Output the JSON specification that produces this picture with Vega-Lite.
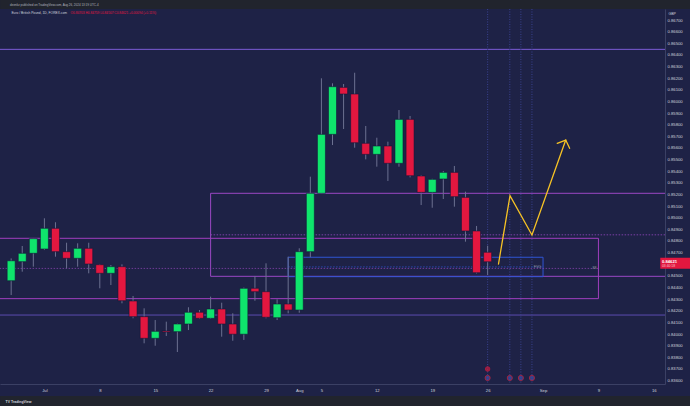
{
  "$schema": "https://vega.github.io/schema/vega-lite/v6.json",
  "width": 665,
  "height": 375,
  "autosize": {"type": "none"},
  "padding": {"top": 9, "left": 0, "right": 25, "bottom": 22},
  "background": "#1e2246",
  "config": {"view": {"stroke": null}, "font": "Liberation Sans", "axis": {"labelOverlap": false, "labelFlush": false}},
  "datasets": {
    "candles": [
      {"date": "2024-06-26", "idx": -3, "open": 0.84458, "high": 0.84650, "low": 0.84335, "close": 0.84630},
      {"date": "2024-06-27", "idx": -2, "open": 0.84622, "high": 0.84757, "low": 0.84536, "close": 0.84694},
      {"date": "2024-06-28", "idx": -1, "open": 0.84694, "high": 0.84826, "low": 0.84579, "close": 0.84820},
      {"date": "2024-07-01", "idx": 0, "open": 0.84731, "high": 0.84995, "low": 0.84722, "close": 0.84909},
      {"date": "2024-07-02", "idx": 1, "open": 0.84909, "high": 0.84961, "low": 0.84665, "close": 0.84708},
      {"date": "2024-07-03", "idx": 2, "open": 0.84708, "high": 0.84785, "low": 0.84565, "close": 0.84651},
      {"date": "2024-07-04", "idx": 3, "open": 0.84651, "high": 0.84780, "low": 0.84579, "close": 0.84737},
      {"date": "2024-07-05", "idx": 4, "open": 0.84737, "high": 0.84785, "low": 0.84522, "close": 0.84602},
      {"date": "2024-07-08", "idx": 5, "open": 0.84596, "high": 0.84600, "low": 0.84393, "close": 0.84522},
      {"date": "2024-07-09", "idx": 6, "open": 0.84522, "high": 0.84593, "low": 0.84421, "close": 0.84579},
      {"date": "2024-07-10", "idx": 7, "open": 0.84579, "high": 0.84599, "low": 0.84264, "close": 0.84286},
      {"date": "2024-07-11", "idx": 8, "open": 0.84284, "high": 0.84327, "low": 0.84135, "close": 0.84149},
      {"date": "2024-07-12", "idx": 9, "open": 0.84149, "high": 0.84221, "low": 0.83920, "close": 0.83963},
      {"date": "2024-07-15", "idx": 10, "open": 0.83963, "high": 0.84120, "low": 0.83899, "close": 0.84023},
      {"date": "2024-07-16", "idx": 11, "open": 0.84026, "high": 0.84106, "low": 0.83983, "close": 0.84017},
      {"date": "2024-07-17", "idx": 12, "open": 0.84020, "high": 0.84090, "low": 0.83845, "close": 0.84086},
      {"date": "2024-07-18", "idx": 13, "open": 0.84086, "high": 0.84230, "low": 0.84034, "close": 0.84187},
      {"date": "2024-07-19", "idx": 14, "open": 0.84187, "high": 0.84206, "low": 0.84130, "close": 0.84135},
      {"date": "2024-07-22", "idx": 15, "open": 0.84135, "high": 0.84321, "low": 0.84130, "close": 0.84215},
      {"date": "2024-07-23", "idx": 16, "open": 0.84215, "high": 0.84269, "low": 0.83977, "close": 0.84086},
      {"date": "2024-07-24", "idx": 17, "open": 0.84086, "high": 0.84178, "low": 0.83942, "close": 0.83998},
      {"date": "2024-07-25", "idx": 18, "open": 0.83998, "high": 0.84400, "low": 0.83949, "close": 0.84393},
      {"date": "2024-07-26", "idx": 19, "open": 0.84393, "high": 0.84499, "low": 0.84286, "close": 0.84364},
      {"date": "2024-07-29", "idx": 20, "open": 0.84364, "high": 0.84608, "low": 0.84135, "close": 0.84144},
      {"date": "2024-07-30", "idx": 21, "open": 0.84140, "high": 0.84298, "low": 0.84120, "close": 0.84258},
      {"date": "2024-07-31", "idx": 22, "open": 0.84258, "high": 0.84665, "low": 0.84178, "close": 0.84206},
      {"date": "2024-08-01", "idx": 23, "open": 0.84206, "high": 0.84737, "low": 0.84183, "close": 0.84708},
      {"date": "2024-08-02", "idx": 24, "open": 0.84708, "high": 0.85353, "low": 0.84660, "close": 0.85210},
      {"date": "2024-08-05", "idx": 25, "open": 0.85210, "high": 0.86199, "low": 0.85205, "close": 0.85717},
      {"date": "2024-08-06", "idx": 26, "open": 0.85717, "high": 0.86156, "low": 0.85625, "close": 0.86127},
      {"date": "2024-08-07", "idx": 27, "open": 0.86121, "high": 0.86150, "low": 0.85763, "close": 0.86064},
      {"date": "2024-08-08", "idx": 28, "open": 0.86064, "high": 0.86247, "low": 0.85602, "close": 0.85645},
      {"date": "2024-08-09", "idx": 29, "open": 0.85640, "high": 0.85789, "low": 0.85502, "close": 0.85545},
      {"date": "2024-08-12", "idx": 30, "open": 0.85545, "high": 0.85688, "low": 0.85439, "close": 0.85617},
      {"date": "2024-08-13", "idx": 31, "open": 0.85617, "high": 0.85654, "low": 0.85316, "close": 0.85468},
      {"date": "2024-08-14", "idx": 32, "open": 0.85468, "high": 0.85926, "low": 0.85439, "close": 0.85846},
      {"date": "2024-08-15", "idx": 33, "open": 0.85846, "high": 0.85875, "low": 0.85347, "close": 0.85361},
      {"date": "2024-08-16", "idx": 34, "open": 0.85359, "high": 0.85365, "low": 0.85109, "close": 0.85218},
      {"date": "2024-08-19", "idx": 35, "open": 0.85218, "high": 0.85335, "low": 0.85086, "close": 0.85330},
      {"date": "2024-08-20", "idx": 36, "open": 0.85333, "high": 0.85402, "low": 0.85161, "close": 0.85390},
      {"date": "2024-08-21", "idx": 37, "open": 0.85390, "high": 0.85445, "low": 0.85095, "close": 0.85181},
      {"date": "2024-08-22", "idx": 38, "open": 0.85175, "high": 0.85224, "low": 0.84794, "close": 0.84886},
      {"date": "2024-08-23", "idx": 39, "open": 0.84886, "high": 0.84929, "low": 0.84520, "close": 0.84527},
      {"date": "2024-08-26", "idx": 40, "open": 0.84703, "high": 0.84759, "low": 0.84507, "close": 0.84621}
    ],
    "levels": [
      {"level": "upper", "price": 0.86448},
      {"level": "lower", "price": 0.84163}
    ],
    "zones": [
      {"zone": "premium", "x1": 15, "x2": 60, "top": 0.85210, "bottom": 0.84496, "mid": 0.84853, "label": ""},
      {"zone": "demand", "x1": -10, "x2": 50, "top": 0.84823, "bottom": 0.84304, "mid": 0.84564, "label": "-88"},
      {"zone": "FVG", "x1": 22, "x2": 45, "top": 0.84660, "bottom": 0.84493, "mid": 0.84577, "label": "FVG"}
    ],
    "events": [
      {"idx": 40, "date": "2024-08-26"},
      {"idx": 42, "date": "2024-08-28"},
      {"idx": 43, "date": "2024-08-29"},
      {"idx": 44, "date": "2024-08-30"}
    ],
    "path": [
      {"part": "zigzag", "step": 1, "idx": 40.98, "price": 0.84602},
      {"part": "zigzag", "step": 2, "idx": 42.02, "price": 0.85189},
      {"part": "zigzag", "step": 3, "idx": 44.0, "price": 0.84851},
      {"part": "zigzag", "step": 4, "idx": 47.05, "price": 0.85668},
      {"part": "head", "step": 1, "idx": 46.28, "price": 0.85640},
      {"part": "head", "step": 2, "idx": 47.05, "price": 0.85668},
      {"part": "head", "step": 3, "idx": 47.40, "price": 0.85597}
    ]
  },
  "layer": [
    {
      "data": {"values": [{"strip": "header"}]},
      "mark": {"type": "rect", "fill": "#21242d"},
      "encoding": {
        "x": {
          "datum": -4, "type": "quantitative",
          "scale": {"domain": [-3.556, 55.556], "nice": false, "zero": false},
          "axis": {
            "orient": "bottom",
            "values": [0, 5, 10, 15, 20, 23, 25, 30, 35, 40, 45, 50, 55],
            "labelExpr": "datum.value == 0 ? 'Jul' : datum.value == 5 ? '8' : datum.value == 10 ? '15' : datum.value == 15 ? '22' : datum.value == 20 ? '29' : datum.value == 23 ? 'Aug' : datum.value == 25 ? '5' : datum.value == 30 ? '12' : datum.value == 35 ? '19' : datum.value == 40 ? '26' : datum.value == 45 ? 'Sep' : datum.value == 50 ? '9' : '16'",
            "title": "TV TradingView", "titleX": 5, "titleY": 17, "titleAlign": "left", "titleAnchor": "start",
            "titleBaseline": "middle", "titleFontSize": 3.5, "titleFontWeight": "bold", "titleColor": "#d1d4dc",
            "labelFontSize": 4.2, "labelColor": "#d1d4dc", "labelPadding": 4, "ticks": false, "grid": false,
            "domainColor": "#3b4064", "labelFlush": false, "labelOverlap": false, "zindex": 1
          }
        },
        "x2": {"datum": 60},
        "y": {
          "datum": 0.86795, "type": "quantitative",
          "scale": {"domain": [0.8357, 0.86795], "nice": false, "zero": false},
          "axis": {
            "orient": "right",
            "tickCount": 32,
            "labelExpr": "abs(datum.value - 0.846) < 0.0002 ? '' : format(datum.value, '.5f')",
            "title": "GBP", "titleAngle": 0, "titleX": 3, "titleY": 4, "titleAlign": "left", "titleBaseline": "middle",
            "titleFontSize": 3.5, "titleFontWeight": "normal", "titleColor": "#d1d4dc",
            "labelFontSize": 4.2, "labelColor": "#d1d4dc", "labelPadding": 2, "ticks": false, "grid": false,
            "domainColor": "#3b4064", "labelOverlap": false, "labelFlush": false, "labelBound": false
          }
        },
        "y2": {"datum": 0.8695}
      }
    },
    {
      "data": {"values": [{"strip": "footer"}]},
      "mark": {"type": "rect", "fill": "#21242d"},
      "encoding": {
        "x": {"datum": -4, "type": "quantitative", "scale": {"domain": [-3.556, 55.556], "nice": false, "zero": false}},
        "x2": {"datum": 60},
        "y": {"datum": 0.83467, "type": "quantitative", "scale": {"domain": [0.8357, 0.86795], "nice": false, "zero": false}},
        "y2": {"datum": 0.8330}
      }
    },
    {
      "data": {"name": "levels"},
      "mark": {"type": "rule", "strokeWidth": 1},
      "encoding": {
        "y": {"field": "price", "type": "quantitative", "scale": {"domain": [0.8357, 0.86795], "nice": false, "zero": false}},
        "stroke": {"condition": {"test": "datum.level == 'upper'", "value": "#7b5cd6"}, "value": "#5a4bb0"}
      }
    },
    {
      "data": {"name": "events"},
      "mark": {"type": "rule", "strokeWidth": 1, "strokeDash": [1, 1.5], "stroke": "#3a4290"},
      "encoding": {
        "x": {"field": "idx", "type": "quantitative", "scale": {"domain": [-3.556, 55.556], "nice": false, "zero": false}}
      }
    },
    {
      "data": {"name": "zones"},
      "mark": {"type": "rect", "fill": "#000000", "fillOpacity": 0, "strokeWidth": 1, "clip": true},
      "encoding": {
        "x": {"field": "x1", "type": "quantitative", "scale": {"domain": [-3.556, 55.556], "nice": false, "zero": false}},
        "x2": {"field": "x2"},
        "y": {"field": "top", "type": "quantitative", "scale": {"domain": [0.8357, 0.86795], "nice": false, "zero": false}},
        "y2": {"field": "bottom"},
        "stroke": {"condition": [{"test": "datum.zone == 'FVG'", "value": "#2f55d4"}, {"test": "datum.zone == 'premium'", "value": "#9a48c4"}], "value": "#a03fbe"}
      }
    },
    {
      "data": {"name": "zones"},
      "mark": {"type": "rule", "strokeWidth": 1, "strokeDash": [1.5, 1.5], "opacity": 0.75, "clip": true},
      "encoding": {
        "x": {"field": "x1", "type": "quantitative", "scale": {"domain": [-3.556, 55.556], "nice": false, "zero": false}},
        "x2": {"field": "x2"},
        "y": {"field": "mid", "type": "quantitative", "scale": {"domain": [0.8357, 0.86795], "nice": false, "zero": false}},
        "stroke": {"condition": [{"test": "datum.zone == 'FVG'", "value": "#2f55d4"}, {"test": "datum.zone == 'premium'", "value": "#9a48c4"}], "value": "#8a44b0"}
      }
    },
    {
      "data": {"name": "candles"},
      "mark": {"type": "rule", "strokeWidth": 1, "stroke": "#6c7191"},
      "encoding": {
        "x": {"field": "idx", "type": "quantitative", "scale": {"domain": [-3.556, 55.556], "nice": false, "zero": false}},
        "y": {"field": "low", "type": "quantitative", "scale": {"domain": [0.8357, 0.86795], "nice": false, "zero": false}},
        "y2": {"field": "high"}
      }
    },
    {
      "data": {"name": "candles"},
      "mark": {"type": "bar", "width": 8, "stroke": "#14173a", "strokeWidth": 0.6},
      "encoding": {
        "x": {"field": "idx", "type": "quantitative", "scale": {"domain": [-3.556, 55.556], "nice": false, "zero": false}},
        "y": {"field": "open", "type": "quantitative", "scale": {"domain": [0.8357, 0.86795], "nice": false, "zero": false}},
        "y2": {"field": "close"},
        "fill": {"condition": {"test": "datum.close >= datum.open", "value": "#0fe46c"}, "value": "#e3173f"}
      }
    },
    {
      "data": {"name": "path"},
      "mark": {"type": "line", "stroke": "#f7c325", "strokeWidth": 1.3, "strokeCap": "round", "strokeJoin": "miter"},
      "encoding": {
        "x": {"field": "idx", "type": "quantitative", "scale": {"domain": [-3.556, 55.556], "nice": false, "zero": false}},
        "y": {"field": "price", "type": "quantitative", "scale": {"domain": [0.8357, 0.86795], "nice": false, "zero": false}},
        "detail": {"field": "part"},
        "order": {"field": "step"}
      }
    },
    {
      "data": {"name": "zones"},
      "transform": [{"filter": "datum.label != ''"}],
      "mark": {"type": "text", "align": "right", "baseline": "middle", "dx": -2, "fontSize": 3.5, "fill": "#9598a1"},
      "encoding": {
        "x": {"field": "x2", "type": "quantitative", "scale": {"domain": [-3.556, 55.556], "nice": false, "zero": false}},
        "y": {"field": "mid", "type": "quantitative", "scale": {"domain": [0.8357, 0.86795], "nice": false, "zero": false}},
        "text": {"field": "label"}
      }
    },
    {
      "data": {"name": "events"},
      "mark": {"type": "point", "shape": "circle", "filled": true, "size": 26, "fill": "#3c4fa8", "stroke": "#d9263f", "strokeWidth": 1},
      "encoding": {
        "x": {"field": "idx", "type": "quantitative", "scale": {"domain": [-3.556, 55.556], "nice": false, "zero": false}},
        "y": {"datum": 0.83622, "type": "quantitative", "scale": {"domain": [0.8357, 0.86795], "nice": false, "zero": false}}
      }
    },
    {
      "data": {"name": "events"},
      "transform": [{"filter": "datum.idx == 40"}],
      "mark": {"type": "point", "shape": "circle", "filled": true, "size": 20, "fill": "#c2203e", "stroke": "#e3173f", "strokeWidth": 1},
      "encoding": {
        "x": {"field": "idx", "type": "quantitative", "scale": {"domain": [-3.556, 55.556], "nice": false, "zero": false}},
        "y": {"datum": 0.83699, "type": "quantitative", "scale": {"domain": [0.8357, 0.86795], "nice": false, "zero": false}}
      }
    },
    {
      "data": {"name": "candles"},
      "transform": [{"filter": "datum.idx == 40"}],
      "mark": {"type": "rect", "fill": "#e3173f", "yOffset": -4, "y2Offset": 7},
      "encoding": {
        "x": {"datum": 55.58, "type": "quantitative", "scale": {"domain": [-3.556, 55.556], "nice": false, "zero": false}},
        "x2": {"datum": 60},
        "y": {"field": "close", "type": "quantitative", "scale": {"domain": [0.8357, 0.86795], "nice": false, "zero": false}},
        "y2": {"field": "close"}
      }
    },
    {
      "data": {"name": "candles"},
      "transform": [{"filter": "datum.idx == 40"}],
      "mark": {"type": "text", "align": "left", "baseline": "middle", "fontSize": 4.2, "fontWeight": "bold", "fill": "#ffffff"},
      "encoding": {
        "x": {"datum": 55.73, "type": "quantitative", "scale": {"domain": [-3.556, 55.556], "nice": false, "zero": false}},
        "y": {"field": "close", "type": "quantitative", "scale": {"domain": [0.8357, 0.86795], "nice": false, "zero": false}},
        "text": {"field": "close", "format": ".5f"}
      }
    },
    {
      "data": {"name": "candles"},
      "transform": [{"filter": "datum.idx == 40"}],
      "mark": {"type": "text", "align": "left", "baseline": "middle", "fontSize": 3.4, "dy": 4.6, "fill": "#f4c6cf", "text": "03:40:18"},
      "encoding": {
        "x": {"datum": 55.73, "type": "quantitative", "scale": {"domain": [-3.556, 55.556], "nice": false, "zero": false}},
        "y": {"field": "close", "type": "quantitative", "scale": {"domain": [0.8357, 0.86795], "nice": false, "zero": false}}
      }
    },
    {
      "data": {"values": [{"t": "deenkz published on TradingView.com, Aug 26, 2024 13:19 UTC-4"}]},
      "mark": {"type": "text", "align": "left", "baseline": "middle", "fontSize": 3, "fill": "#b2b5be"},
      "encoding": {
        "x": {"datum": -3.1, "type": "quantitative", "scale": {"domain": [-3.556, 55.556], "nice": false, "zero": false}},
        "y": {"datum": 0.86833, "type": "quantitative", "scale": {"domain": [0.8357, 0.86795], "nice": false, "zero": false}},
        "text": {"field": "t"}
      }
    },
    {
      "data": {"values": [{"t": "Euro / British Pound, 1D, FOREX.com"}]},
      "mark": {"type": "text", "align": "left", "baseline": "middle", "fontSize": 3.3, "fill": "#d1d4dc"},
      "encoding": {
        "x": {"datum": -2.98, "type": "quantitative", "scale": {"domain": [-3.556, 55.556], "nice": false, "zero": false}},
        "y": {"datum": 0.86758, "type": "quantitative", "scale": {"domain": [0.8357, 0.86795], "nice": false, "zero": false}},
        "text": {"field": "t"}
      }
    },
    {
      "data": {"values": [{"t": "O0.84703 H0.84759 L0.84507 C0.84621 +0.00094 (+0.11%)"}]},
      "mark": {"type": "text", "align": "left", "baseline": "middle", "fontSize": 3.2, "fill": "#e3173f"},
      "encoding": {
        "x": {"datum": 2.36, "type": "quantitative", "scale": {"domain": [-3.556, 55.556], "nice": false, "zero": false}},
        "y": {"datum": 0.86758, "type": "quantitative", "scale": {"domain": [0.8357, 0.86795], "nice": false, "zero": false}},
        "text": {"field": "t"}
      }
    }
  ]
}
